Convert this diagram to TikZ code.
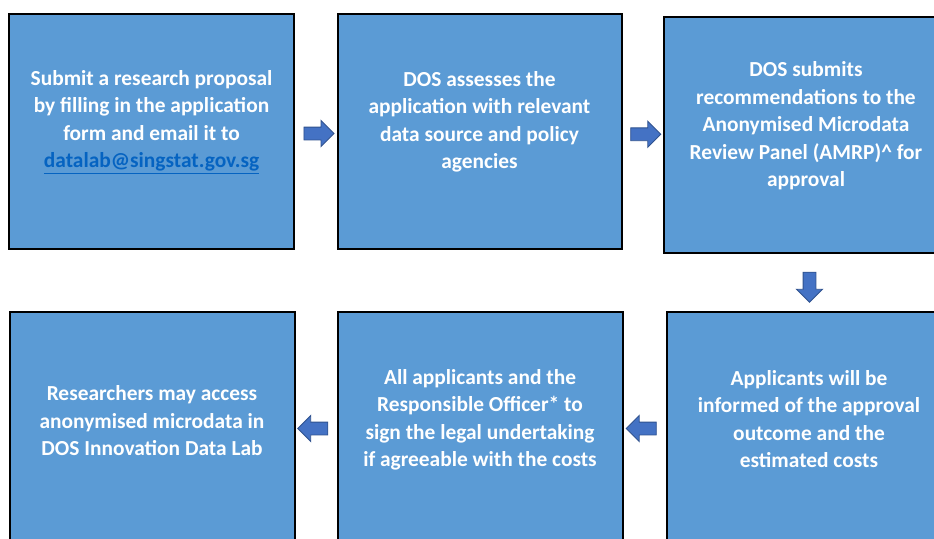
\documentclass[tikz,border=0pt]{standalone}
\usepackage{fontspec}
\setmainfont{Carlito}
\usetikzlibrary{shapes.arrows,calc}
\definecolor{boxfill}{HTML}{5B9BD5}
\definecolor{arrfill}{HTML}{4472C4}
\definecolor{arrline}{HTML}{2F528F}
\definecolor{linkcol}{HTML}{0563C1}
\begin{document}
\begin{tikzpicture}[x=1pt,y=-1pt,
  stepbox/.style={draw=black,line width=2pt,fill=boxfill,minimum width=285pt,inner sep=0pt},
  boxtext/.style={text=white,font=\fontsize{21.4}{27.5}\selectfont\bfseries,align=center,inner sep=0pt},
  blockarrow/.style={shape=single arrow,draw=arrline,fill=arrfill,line width=0.9pt,minimum height=30pt,minimum width=25pt,inner xsep=0pt,inner ysep=6pt,single arrow head extend=6.5pt}]
\useasboundingbox (0,0) rectangle (934,538);
\clip (0,0) rectangle (934,538);
\node[stepbox,minimum height=235pt] (b1) at (151.5,131.5) {};
\node[stepbox,minimum height=235pt,minimum width=284pt] (b2) at (479.5,131.5) {};
\node[stepbox,minimum height=236pt] (b3) at (806,135) {};
\node[stepbox,minimum height=260pt] (b4) at (152,442) {};
\node[stepbox,minimum height=260pt] (b5) at (480,442) {};
\node[stepbox,minimum height=260pt] (b6) at (809,442) {};
\node[boxtext] (t1) at ($(b1.center)+(0,-9.5)$) {Submit a research proposal\\by filling in the application\\form and email it to\\{\color{linkcol}\underline{datalab@singstat.gov.sg}}};
\node[boxtext] (t2) at ($(b2.center)+(0,-9.5)$) {DOS assesses the\\application with relevant\\data source and policy\\agencies};
\node[boxtext] (t3) at ($(b3.center)+(0,-9)$) {DOS submits\\recommendations to the\\Anonymised Microdata\\Review Panel (AMRP)\^{} for\\approval};
\node[boxtext] (t4) at (152,421) {Researchers may access\\anonymised microdata in\\DOS Innovation Data Lab};
\node[boxtext] (t5) at (480,420) {All applicants and the\\Responsible Officer* to\\sign the legal undertaking\\if agreeable with the costs};
\node[boxtext] (t6) at (809,419) {Applicants will be\\informed of the approval\\outcome and the\\estimated costs};
\node[blockarrow] (a1) at ($(b1.east)!0.5!(b2.west)+(0,2)$) {};
\node[blockarrow] (a2) at ($(b2.east)!0.5!(b3.west)+(0,1)$) {};
\node[blockarrow,rotate=-90] (a3) at ($(b3.south)!0.5!(b6.north)+(2,1.5)$) {};
\node[blockarrow,rotate=180] (a4) at ($(b6.west)!0.5!(b5.east)+(0,-13.5)$) {};
\node[blockarrow,rotate=180] (a5) at ($(b5.west)!0.5!(b4.east)+(0,-13.5)$) {};
\end{tikzpicture}
\end{document}
